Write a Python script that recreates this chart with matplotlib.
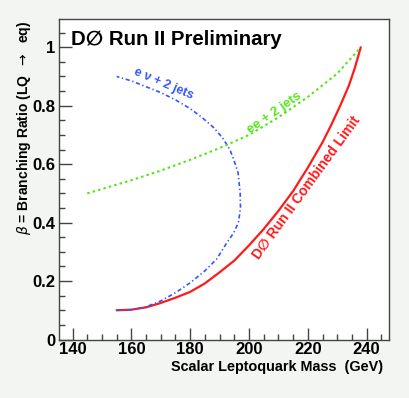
import matplotlib
matplotlib.use("Agg")
import matplotlib.pyplot as plt
from matplotlib.ticker import MultipleLocator

plt.rcParams['font.family'] = ['Liberation Sans', 'DejaVu Sans']

# Data
limit_mass = [155, 160, 165, 170, 175, 180, 185, 190, 195, 200, 205, 210, 215, 220, 225, 228, 231, 234, 236, 238]
limit_beta = [0.100, 0.102, 0.110, 0.125, 0.143, 0.163, 0.192, 0.230, 0.270, 0.322, 0.378, 0.440, 0.508, 0.588, 0.675, 0.735, 0.800, 0.870, 0.930, 1.000]

enu_mass = [155, 160, 165, 170, 175, 180, 185, 189, 192.4, 194.8, 196.4, 197.1, 197.0, 196.3, 195.0, 193.5, 191.0, 188.0, 184.0, 180.0, 175.0, 170.0, 165.0, 160.0, 155.0]
enu_beta = [0.100, 0.102, 0.112, 0.132, 0.160, 0.194, 0.235, 0.275, 0.330, 0.365, 0.400, 0.450, 0.500, 0.570, 0.610, 0.650, 0.690, 0.725, 0.760, 0.790, 0.820, 0.845, 0.865, 0.885, 0.900]

ee_mass = [145, 150, 160, 170, 180, 190, 200, 210, 220, 230, 238]
ee_beta = [0.500, 0.515, 0.545, 0.578, 0.615, 0.655, 0.700, 0.760, 0.830, 0.910, 1.000]

xticks = [140, 160, 180, 200, 220, 240]
yticks = [0, 0.2, 0.4, 0.6, 0.8, 1.0]
ytick_labels = ['0', '0.2', '0.4', '0.6', '0.8', '1']

W, H = 410, 398
fig = plt.figure(figsize=(W / 100, H / 100), dpi=100, facecolor='#f3f5f3')
ax = fig.add_axes([59.3 / W, 1 - 339.5 / H, (389.3 - 59.3) / W, (339.5 - 19.5) / H])
ax.set_facecolor('white')

ax.plot(limit_mass, limit_beta, color='#ff1a1a', lw=1.6, solid_capstyle='round', solid_joinstyle='round')
ax.plot(enu_mass, enu_beta, color='#3355ff', lw=1.2, ls=(0, (2.5, 1.6, 0.8, 1.6)))
ax.plot(ee_mass, ee_beta, color='#55e61a', lw=1.5, ls=(0, (1.2, 1.5)))

ax.set_xlim(135.5, 247.7)
ax.set_ylim(0, 1.095)
ax.set_xticks(xticks)
ax.set_xticklabels([str(t) for t in xticks])
ax.set_yticks(yticks)
ax.set_yticklabels(ytick_labels)
ax.xaxis.set_minor_locator(MultipleLocator(5))
ax.yaxis.set_minor_locator(MultipleLocator(0.05))
ax.tick_params(which='both', direction='in', top=False, right=False, color='#444444', width=1.0)
ax.tick_params(which='major', length=9)
ax.tick_params(which='minor', length=4.5)
ax.tick_params(axis='x', which='major', pad=2)
ax.tick_params(axis='y', which='major', pad=3)
for lab in ax.get_xticklabels() + ax.get_yticklabels():
    lab.set_fontweight('bold')
    lab.set_fontsize(12)
for s in ax.spines.values():
    s.set_color('#444444')
    s.set_linewidth(1.0)

fig.text(71 / W, 1 - 39.5 / H, 'D\u2205 Run II Preliminary', fontsize=14.7, fontweight='bold',
         ha='left', va='center')

fig.text(383 / W, 1 - 367 / H, 'Scalar Leptoquark Mass  (GeV)', fontsize=10.4, fontweight='bold',
         ha='right', va='center')
fig.text(24 / W, 1 - 21 / H, r'$\beta$ = Branching Ratio (LQ  $\rightarrow$  eq)', fontsize=10,
         fontweight='bold', ha='center', va='top', rotation=90)

ax.text(170.8, 0.875, 'e \u03bd + 2 jets', color='#3355ff', fontsize=9, fontweight='bold',
        rotation=-23, ha='center', va='center')
ax.text(208.5, 0.775, 'ee + 2 jets', color='#55e61a', fontsize=9.5, fontweight='bold',
        rotation=35, ha='center', va='center')
ax.text(219.5, 0.52, 'D\u2205 Run II Combined Limit', color='#ff1a1a', fontsize=10, fontweight='bold',
        rotation=54, ha='center', va='center')

fig.savefig('out.png', dpi=100, facecolor=fig.get_facecolor())
